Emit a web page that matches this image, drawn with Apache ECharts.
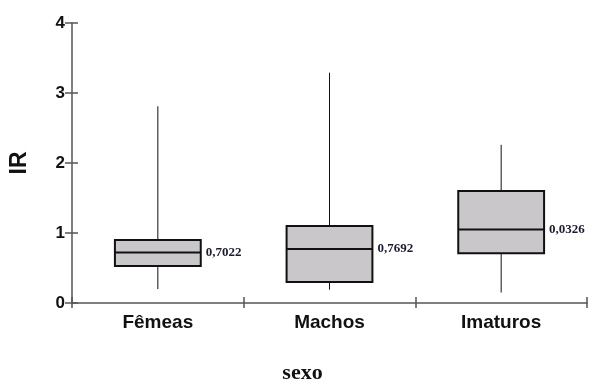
<!DOCTYPE html>
<html><head><meta charset="utf-8">
<script src="https://cdn.jsdelivr.net/npm/echarts@6/dist/echarts.min.js"></script>
<style>html,body{margin:0;padding:0;background:#fff}#c{width:590px;height:381px}</style>
</head><body><div id="c"></div>
<script>
var categories = ['Fêmeas', 'Machos', 'Imaturos'];
var whiskerLow = [0.20, 0.19, 0.15];
var q1 = [0.53, 0.30, 0.71];
var median = [0.72, 0.77, 1.05];
var q3 = [0.90, 1.10, 1.60];
var whiskerHigh = [2.81, 3.29, 2.26];
var medianLabels = ['0,7022', '0,7692', '0,0326'];
var yTicks = [0, 1, 2, 3, 4];

var data = categories.map(function (c, i) {
  return [i, whiskerLow[i], q1[i], median[i], q3[i], whiskerHigh[i]];
});

var axisColor = '#555';
var chart = echarts.init(document.getElementById('c'), null, {renderer: 'canvas'});
chart.setOption({
  animation: false,
  grid: {left: 72, right: 3, top: 23, bottom: 78, containLabel: false, outerBoundsMode: 'none'},
  xAxis: [{
    type: 'category', data: categories, position: 'bottom',
    name: 'sexo', nameLocation: 'middle', nameGap: 59,
    nameTextStyle: {fontFamily: 'Liberation Serif', fontWeight: 'bold', fontSize: 22, color: '#111', padding: [0, 54, 0, 0]},
    axisLine: {lineStyle: {color: axisColor, width: 1.5}},
    axisTick: {show: true, length: 5, lineStyle: {color: axisColor, width: 1.5}},
    axisLabel: {fontFamily: 'Liberation Sans', fontWeight: 'bold', fontSize: 19, color: '#111', margin: 10}
  }, {
    type: 'category', data: categories, position: 'bottom', offset: 0,
    axisLine: {show: false},
    axisTick: {show: true, inside: true, length: 6, lineStyle: {color: axisColor, width: 1.5}},
    axisLabel: {show: false}
  }],
  yAxis: [{
    type: 'value', min: yTicks[0], max: yTicks[yTicks.length - 1], interval: 1,
    name: 'IR', nameLocation: 'middle', nameGap: 41, nameRotate: 90,
    nameTextStyle: {fontFamily: 'Liberation Sans', fontWeight: 'bold', fontSize: 23, color: '#111'},
    axisLine: {show: true, lineStyle: {color: axisColor, width: 1.5}},
    axisTick: {show: true, length: 7, lineStyle: {color: axisColor, width: 1.5}},
    axisLabel: {fontFamily: 'Liberation Sans', fontWeight: 'bold', fontSize: 17, color: '#111', margin: 7},
    splitLine: {show: false}
  }, {
    type: 'value', min: yTicks[0], max: yTicks[yTicks.length - 1], interval: 1, position: 'left', offset: 0,
    axisLine: {show: false},
    axisTick: {show: true, inside: true, length: 6, lineStyle: {color: axisColor, width: 1.5}},
    axisLabel: {show: false},
    splitLine: {show: false}
  }],
  series: [{
    type: 'custom',
    xAxisIndex: 0, yAxisIndex: 0,
    data: data,
    renderItem: function (params, api) {
      var x = api.value(0);
      var band = api.size([1, 0])[0];
      var half = band * 0.25;
      var pLow = api.coord([x, api.value(1)]);
      var pQ1 = api.coord([x, api.value(2)]);
      var pMed = api.coord([x, api.value(3)]);
      var pQ3 = api.coord([x, api.value(4)]);
      var pHigh = api.coord([x, api.value(5)]);
      var cx = pMed[0];
      return {
        type: 'group',
        children: [
          {type: 'line', shape: {x1: cx, y1: pHigh[1], x2: cx, y2: pQ3[1]}, style: {stroke: '#111', lineWidth: 1}},
          {type: 'line', shape: {x1: cx, y1: pQ1[1], x2: cx, y2: pLow[1]}, style: {stroke: '#111', lineWidth: 1}},
          {type: 'rect', shape: {x: cx - half, y: pQ3[1], width: half * 2, height: pQ1[1] - pQ3[1]},
            style: {fill: '#c9c7ca', stroke: '#111', lineWidth: 2}},
          {type: 'line', shape: {x1: cx - half, y1: pMed[1], x2: cx + half, y2: pMed[1]}, style: {stroke: '#111', lineWidth: 2}},
          {type: 'text', x: cx + half + 5, y: pMed[1],
            style: {text: medianLabels[params.dataIndex], fill: '#1b1b33', font: 'bold 13px "Liberation Serif"', verticalAlign: 'middle', align: 'left'}}
        ]
      };
    }
  }]
});
</script></body></html>
